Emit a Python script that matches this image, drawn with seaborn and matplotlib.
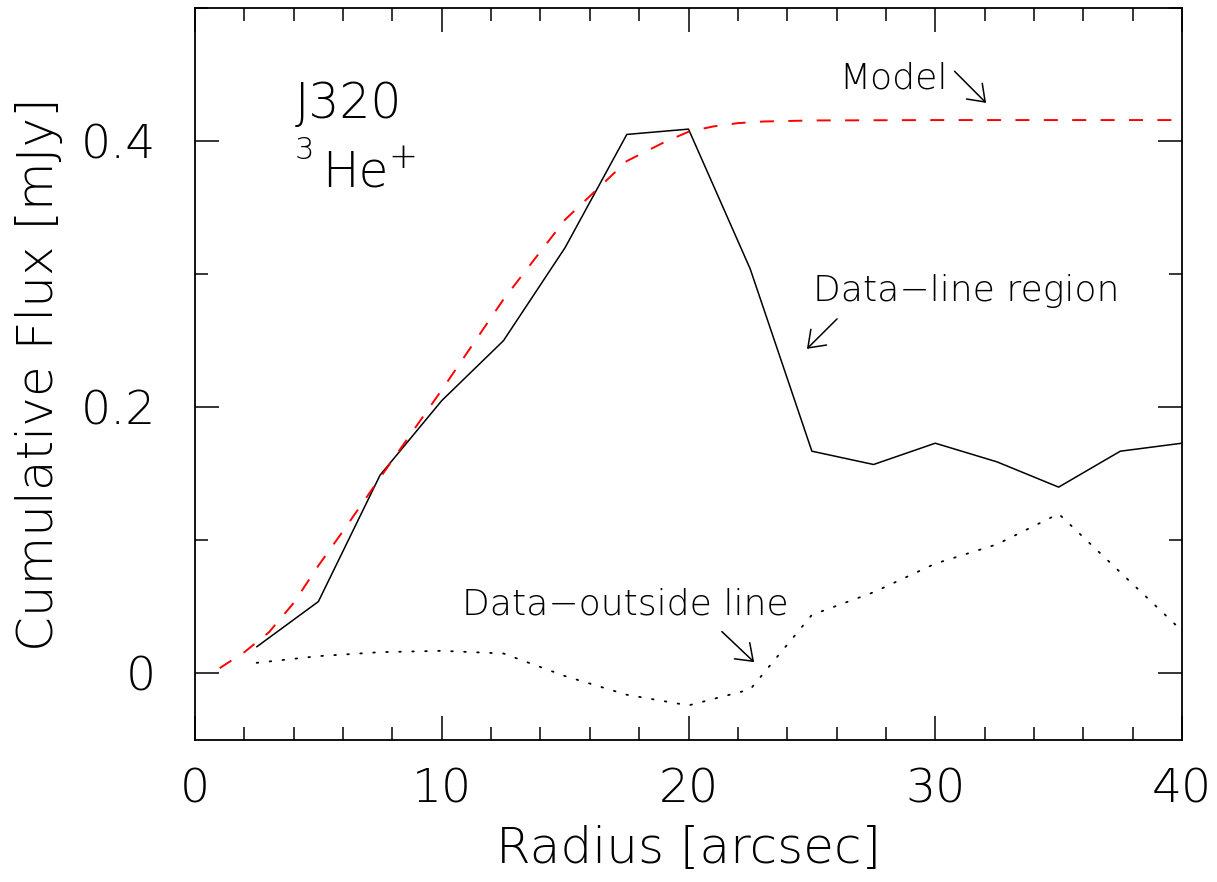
import matplotlib
matplotlib.use("Agg")
import numpy as np
import pandas as pd
import seaborn as sns
import matplotlib.pyplot as plt
from matplotlib.ticker import MultipleLocator, FuncFormatter

# ---------------- data ----------------
radius = [2.5, 5.0, 7.5, 10.0, 12.5, 15.0, 17.5, 20.0, 22.5, 25.0,
          27.5, 30.0, 32.5, 35.0, 37.5, 40.0]
flux_line_region = [0.020, 0.054, 0.149, 0.205, 0.250, 0.320, 0.405, 0.409,
                    0.304, 0.167, 0.157, 0.173, 0.159, 0.140, 0.167, 0.173]
flux_outside_line = [0.008, 0.013, 0.016, 0.017, 0.015, -0.002, -0.016, -0.024,
                     -0.012, 0.044, 0.061, 0.0825, 0.097, 0.120, 0.076, 0.032]

model_radius = [1.0, 2.0, 3.0, 4.0, 5.0, 6.0, 7.5, 10.0, 12.5, 15.0, 17.5,
                19.0, 20.0, 21.0, 22.0, 23.0, 25.0, 30.0, 40.0]
model_flux = [0.004, 0.016, 0.031, 0.053, 0.081, 0.107, 0.147, 0.213, 0.281,
              0.341, 0.385, 0.399, 0.407, 0.411, 0.4135, 0.4147, 0.4155,
              0.4158, 0.4158]

x_label = "Radius [arcsec]"
y_label = "Cumulative Flux [mJy]"

# ---------------- style ----------------
sns.set_theme(style="white")
plt.rcParams["font.family"] = ["DejaVu Sans"]
plt.rcParams["font.weight"] = "ultralight"
plt.rcParams["text.color"] = "black"
plt.rcParams["axes.unicode_minus"] = False
FW = "ultralight"

W, H = 1217, 882
fig = plt.figure(figsize=(W / 100, H / 100), dpi=100)
fig.patch.set_facecolor("white")
ax = fig.add_axes([195 / W, 1 - 740 / H, (1182 - 195) / W, (740 - 8) / H])
ax.set_facecolor("white")

df_line = pd.DataFrame({"r": radius, "f": flux_line_region})
df_out = pd.DataFrame({"r": radius, "f": flux_outside_line})
df_model = pd.DataFrame({"r": model_radius, "f": model_flux})

sns.lineplot(data=df_line, x="r", y="f", ax=ax, color="black", lw=1.1,
             estimator=None)
sns.lineplot(data=df_out, x="r", y="f", ax=ax, color="black", lw=1.3,
             estimator=None)
ax.lines[-1].set_dashes([0.9, 6.3])
ax.lines[-1].set_dash_capstyle("round")
sns.lineplot(data=df_model, x="r", y="f", ax=ax, color="#ff0000", lw=1.4,
             estimator=None)
ax.lines[-1].set_dashes([7.2, 7.4])

ax.set_xlim(0, 40)
ax.set_ylim(-0.05, 0.5)

for sp in ax.spines.values():
    sp.set_visible(True)
    sp.set_color("black")
    sp.set_linewidth(1.3)

ax.xaxis.set_major_locator(MultipleLocator(10))
ax.xaxis.set_minor_locator(MultipleLocator(2))
ax.yaxis.set_major_locator(MultipleLocator(0.2))
ax.yaxis.set_minor_locator(MultipleLocator(0.1))
ax.xaxis.set_major_formatter(FuncFormatter(lambda v, p: f"{v:g}"))
ax.yaxis.set_major_formatter(
    FuncFormatter(lambda v, p: "0" if abs(v) < 1e-9 else f"{v:.1f}"))

ax.tick_params(which="both", direction="in", top=True, right=True,
               bottom=True, left=True, color="black", width=1.1)
ax.tick_params(which="major", length=17.5)
ax.tick_params(which="minor", length=9.3)
ax.tick_params(axis="x", which="major", pad=19.5, labelsize=34,
               labelcolor="black")
ax.tick_params(axis="y", which="major", pad=28, labelsize=34,
               labelcolor="black")
for lab in ax.get_xticklabels() + ax.get_yticklabels():
    lab.set_fontweight(FW)

ax.set_xlabel(x_label, fontsize=36, fontweight=FW, color="black")
ax.set_ylabel(y_label, fontsize=36, fontweight=FW, color="black")
ax.xaxis.label.set_va("baseline")
ax.xaxis.set_label_coords(0.5, (740 - 863) / 732)
ax.yaxis.label.set_va("baseline")
ax.yaxis.set_label_coords((53 - 195) / 987, 0.5)

# ---------------- annotations ----------------
txt = dict(color="black", fontweight=FW)
ax.text(4.05, 0.4173, "J320", fontsize=35, ha="left", va="baseline", **txt)
ax.text(4.05, 0.3865, "3", fontsize=22, ha="left", va="baseline", **txt)
ax.text(5.15, 0.3662, "He", fontsize=35, ha="left", va="baseline", **txt)
ax.text(7.82, 0.3872, "+", fontsize=25, ha="left", va="center", **txt)

ax.text(26.1, 0.4398, "Model", fontsize=26, ha="left", va="baseline", **txt)
ax.text(25.05, 0.280, "Data\u2212line region", fontsize=26, ha="left",
        va="baseline", **txt)
ax.text(10.82, 0.0443, "Data\u2212outside line", fontsize=26, ha="left",
        va="baseline", **txt)

arrow = dict(arrowstyle="->, head_length=0.55, head_width=0.4",
             lw=1.1, color="black", shrinkA=0, shrinkB=0, mutation_scale=20)
ax.annotate("", xy=(32.06, 0.4287), xytext=(30.78, 0.4525),
            arrowprops=arrow)
ax.annotate("", xy=(24.80, 0.2439), xytext=(26.02, 0.2664),
            arrowprops=arrow)
ax.annotate("", xy=(22.66, 0.0085), xytext=(21.35, 0.0315),
            arrowprops=arrow)

fig.savefig("out.png", dpi=100, facecolor="white")
